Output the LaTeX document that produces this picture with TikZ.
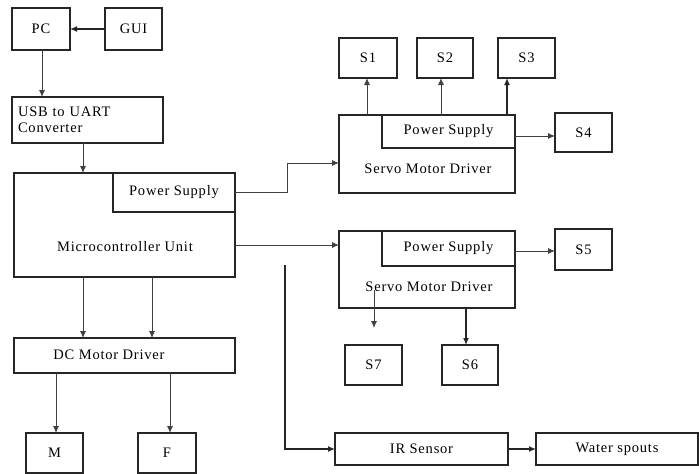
\documentclass[tikz,border=0pt]{standalone}
\usepackage{fontspec}
\setmainfont[LetterSpace=5.5]{Liberation Serif}
\usetikzlibrary{arrows.meta,calc}
\begin{document}
\begin{tikzpicture}[x=1pt,y=-1pt,
  box/.style={draw=black!85,line width=1.1pt,inner sep=0pt,outer sep=0pt,font=\fontsize{14.5}{16}\selectfont},
  lbl/.style={inner sep=0pt,font=\fontsize{14.5}{16}\selectfont},
  conn/.style={draw=black!75,line width=0.9pt,-{Latex[length=7pt,width=6pt]}},
  thk/.style={draw=black!85,line width=1.8pt,-{Latex[length=7pt,width=6pt]}}]
\useasboundingbox (0,0) rectangle (699,474);
% left column
\node[box,minimum width=58,minimum height=42] (pc) at (41,29) {PC};
\node[box,minimum width=57,minimum height=42] (gui) at (133.5,29) {GUI};
\node[box,minimum width=151,minimum height=46,text width=139,inner xsep=6pt,align=left] (usb) at (87.5,120) {USB to UART\\Converter};
\node[box,minimum width=221,minimum height=104] (mcu) at (124.5,225) {};
\node[box,minimum width=122,minimum height=39] (mcups) at (174,192.5) {Power Supply};
\node[lbl] (mcul) at (125,247) {Microcontroller Unit};
\node[box,minimum width=221,minimum height=35] (dc) at (124.5,355.5) {};
\node[lbl] (dcl) at (109,355) {DC Motor Driver};
\node[box,minimum width=57,minimum height=40] (m) at (54.5,453) {M};
\node[box,minimum width=58,minimum height=40] (f) at (167,453) {F};
% upper servo
\node[box,minimum width=176,minimum height=78] (svA) at (427,154) {};
\node[box,minimum width=133,minimum height=33] (psA) at (448.5,131.5) {Power Supply};
\node[lbl] (svAl) at (428,169) {Servo Motor Driver};
\node[box,minimum width=58,minimum height=40] (s1) at (368,58) {S1};
\node[box,minimum width=56,minimum height=40] (s2) at (445,58) {S2};
\node[box,minimum width=57,minimum height=40] (s3) at (526.5,58) {S3};
\node[box,minimum width=57,minimum height=39] (s4) at (583.5,132.5) {S4};
% lower servo
\node[box,minimum width=176,minimum height=77] (svB) at (427,269.5) {};
\node[box,minimum width=133,minimum height=35] (psB) at (448.5,248.5) {Power Supply};
\node[lbl] (svBl) at (429,287) {Servo Motor Driver};
\node[box,minimum width=57,minimum height=41] (s5) at (583.5,249.5) {S5};
\node[box,minimum width=57,minimum height=40] (s7) at (373.5,365) {S7};
\node[box,minimum width=56,minimum height=40] (s6) at (470,365) {S6};
% sensors
\node[box,minimum width=173,minimum height=32] (ir) at (421.5,449) {IR Sensor};
\node[box,minimum width=162,minimum height=32] (ws) at (617,449) {Water spouts};
% helper coordinates (x positions of connectors)
\coordinate (xpc) at (42,0);
\coordinate (xusb) at (83,0);
\coordinate (xs1) at (367,0);
\coordinate (xs2) at (441,0);
\coordinate (xs3) at (507,0);
\coordinate (xs6) at (466,0);
\coordinate (xd1) at (83,0);
\coordinate (xd2) at (152,0);
\coordinate (xm) at (56,0);
\coordinate (xf) at (170,0);
\coordinate (y4) at (0,136);
\coordinate (y5) at (0,251);
% connectors
\draw[thk] (gui.west) -- (pc.east);
\draw[conn] (xpc |- pc.south) -- (xpc |- usb.north);
\draw[conn] (xusb |- usb.south) -- (xusb |- mcu.north);
\coordinate (k1) at (287,192.5);
\coordinate (k1t) at (287,163);
\draw[conn] (mcups.east) -- (k1) -- (k1t) -- (k1t -| svA.west);
\coordinate (k2) at (235,245);
\draw[conn] (k2) -- (k2 -| svB.west);
\coordinate (irs) at (285,265);
\draw[thk] (irs) |- (ir.west);
\draw[thk] (ir.east) -- (ws.west);
\draw[conn] (xs1 |- svA.north) -- (xs1 |- s1.south);
\draw[conn] (xs2 |- svA.north) -- (xs2 |- s2.south);
\draw[thk] (xs3 |- svA.north) -- (xs3 |- s3.south);
\draw[conn] (psA.east |- y4) -- (s4.west |- y4);
\draw[conn] (psB.east |- y5) -- (s5.west |- y5);
\coordinate (s7a) at (374,290);
\coordinate (s7t) at (374,328);
\draw[conn] (s7a) -- (s7t);
\draw[thk] (xs6 |- svB.south) -- (xs6 |- s6.north);
\draw[conn] (xd1 |- mcu.south) -- (xd1 |- dc.north);
\draw[conn] (xd2 |- mcu.south) -- (xd2 |- dc.north);
\draw[conn] (xm |- dc.south) -- (xm |- m.north);
\draw[conn] (xf |- dc.south) -- (xf |- f.north);
\end{tikzpicture}
\end{document}
